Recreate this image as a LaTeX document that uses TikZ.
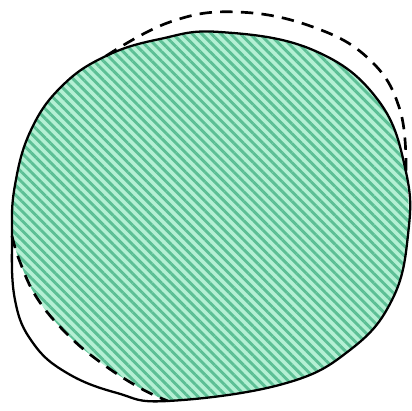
\documentclass[tikz,border=0pt]{standalone}
\usepackage{tikz}
\usetikzlibrary{patterns.meta}

\definecolor{hatchlight}{HTML}{B4F0D4}
\definecolor{hatchdark}{HTML}{5CBF95}

\begin{document}
\begin{tikzpicture}[
    x=0.017cm, y=-0.017cm,
    outline/.style={draw=black, line width=1.1pt},
    trace/.style={draw=black, line width=1.3pt, dash pattern=on 6pt off 4pt},
    region/.style={
      fill=hatchlight,
      postaction={pattern={Lines[angle=-45, distance=3.3pt, line width=1.4pt]}, pattern color=hatchdark}
    }
]

  \useasboundingbox (0,0) rectangle (412,411);

  % junctions of the two curves
  \coordinate (A) at (12,236);
  \coordinate (B) at (106,56);
  \coordinate (C) at (406,172);
  \coordinate (D) at (168,401);

  % hatched part (inside both curves)
  \path[region] plot[smooth, tension=0.7] coordinates {(A) (15,185) (31,130) (62,86) (B) (160,39) (220,32) (313,50) (378,100) (C)}
    -- plot[smooth, tension=0.7] coordinates {(C) (408,235) (392,300) (350,350) (283,384) (D)}
    -- plot[smooth, tension=0.7] coordinates {(D) (140,388) (100,362) (66,333) (37,298) (20,262) (A)}
    -- cycle;

  % solid curve
  \draw[outline] plot[smooth cycle, tension=0.7] coordinates {(A) (15,185) (31,130) (62,86) (B) (160,39) (220,32) (313,50) (378,100) (C)
    (408,235) (392,300) (350,350) (283,384) (D)
    (117,393) (67,373) (33,343) (15,300)};

  % dashed curves
  \draw[trace] plot[smooth, tension=0.7] coordinates {(B) (170,22) (237,12) (313,27) (370,60) (400,110) (C)};
  \draw[trace] plot[smooth, tension=0.7] coordinates {(A) (20,262) (37,298) (66,333) (100,362) (140,388) (D)};

\end{tikzpicture}
\end{document}
